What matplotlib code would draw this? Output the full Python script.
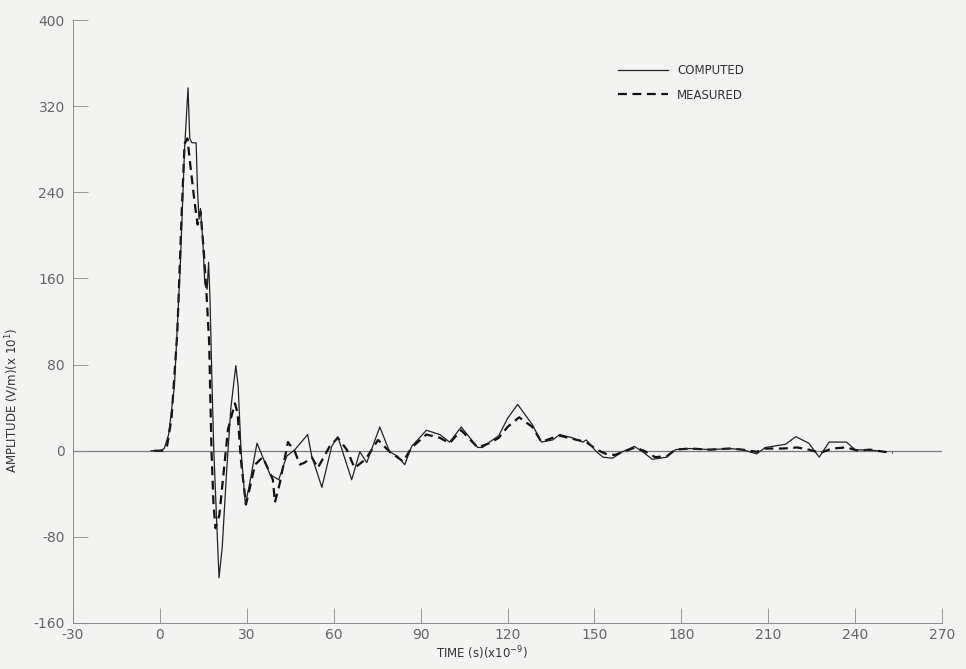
import matplotlib
matplotlib.use("Agg")
import matplotlib.pyplot as plt

# time in ns, amplitude in V/m (x10)
computed_t = [-3, 0, 1.5, 3, 5, 7, 8.5, 9.7, 10.3, 11, 12.5, 13, 13.5, 14, 14.8,
              15.5, 16.3, 16.8, 17.3, 18, 18.6, 19.5, 20.4, 21.5, 23, 24.5, 26.2,
              27, 28, 29.5, 31, 33.5, 35.5, 38, 41, 43.8, 46.6, 51, 52.4, 55.9,
              59.3, 61.4, 66.2, 69, 71.4, 75.9, 79.3, 82, 84.5, 86.9, 92, 96.6,
              100, 104, 109.7, 111.4, 113.8, 117, 120, 123.5, 128.6, 131.7, 135.6,
              138, 142.4, 146, 147.2, 150.7, 153, 156.2, 159.7, 163.8, 166.6, 170,
              175, 178, 182.8, 190, 196.6, 201, 206, 209, 211.4, 216, 219.5, 224,
              227.6, 231, 237, 240, 247.6]
computed_v = [0, 0, 2, 15, 60, 170, 280, 337, 290, 286, 286, 240, 215, 225, 195,
              155, 150, 175, 140, 60, 0, -60, -118, -90, -20, 40, 79,
              60, 0, -50, -30, 7, -6, -22, -27, -5, 1, 15, -5, -34,
              4, 13, -27, -1, -11, 22, -1, -5, -13, 4, 19, 15,
              8, 22, 3, 3, 8, 14, 30, 43, 24, 8, 10,
              15, 12, 8, 10, -1, -6, -7, -1, 4, -1, -8,
              -6, 1, 2, 1, 2, 1, -3, 3, 4, 6, 13, 7,
              -6, 8, 8, 1, 0]

measured_t = [-2, 1, 2.5, 4, 6, 7.5, 8.5, 9.5, 10.5, 12, 13, 14, 15, 16, 17,
              17.8, 18.5, 19.2, 20.5, 22, 23.5, 25.9, 26.8, 28, 29.7, 31, 32.8,
              35.5, 39, 39.7, 41.4, 44.2, 46.6, 48.3, 50, 52.4, 54.5, 58.6, 61.4,
              64.5, 67.2, 71, 75.3, 79.3, 84, 86.9, 92, 96.6, 100, 104, 109.7,
              113.8, 117, 120, 124, 128.6, 131.7, 135.6, 138, 142.4, 147.2, 150.7,
              154, 157, 160, 164, 167, 171, 175, 178, 182.8, 190, 196.6, 201, 206,
              209, 215, 220, 224, 228, 232, 237, 241, 245, 250, 253]
measured_v = [0, 0, 5, 30, 110, 220, 285, 290, 265, 230, 210, 222, 190, 150, 100,
              0, -50, -72, -60, -20, 20, 44, 35, -10, -50, -35, -13,
              -6, -27, -48, -30, 8, -1, -13, -11, -6, -16, 4, 12,
              1, -16, -8, 10, -1, -10, 3, 15, 12, 7, 19, 3,
              7, 12, 22, 31, 22, 8, 12, 14, 11, 8, 1,
              -3, -4, -1, 3, 0, -6, -5, 1, 2, 1, 2, 1, -1,
              2, 2, 3, 1, -2, 2, 3, 0, 1, -1, -2]

x_ticks = list(range(-30, 271, 30))
y_ticks = list(range(-160, 401, 80))

bg = "#f3f3f1"
ink = "#666666"

plt.rcParams["axes.unicode_minus"] = False

fig = plt.figure(figsize=(9.66, 6.69), dpi=100, facecolor=bg)
ax = fig.add_axes([0.0756, 0.0688, 0.8996, 0.9013], facecolor=bg)

ax.axhline(0, color="#7a7a7a", lw=0.9, zorder=1)
ax.plot(computed_t, computed_v, color="#222222", lw=0.9, label="COMPUTED", zorder=3)
ax.plot(measured_t, measured_v, color="#111111", lw=1.6, ls=(0, (4, 2.5)),
        label="MEASURED", zorder=2)

ax.set_xlim(-30, 270)
ax.set_ylim(-160, 400)
ax.set_xticks(x_ticks)
ax.set_yticks(y_ticks)
ax.tick_params(direction="in", length=11, width=0.6, color="#8a8a8a",
               labelcolor=ink, labelsize=10)
ax.tick_params(axis="y", pad=6)

for side in ("top", "right"):
    ax.spines[side].set_visible(False)
for side in ("left", "bottom"):
    ax.spines[side].set_color("#8a8a8a")
    ax.spines[side].set_linewidth(0.7)

ax.set_ylabel("AMPLITUDE (V/m)(x 10$^{1}$)", color="#333333", fontsize=8.5)
ax.yaxis.set_label_coords(-0.06, 0.37)
ax.set_xlabel("TIME (s)(x10$^{-9}$)", color="#333333", fontsize=8.5)
ax.xaxis.set_label_coords(0.47, -0.035)

leg = ax.legend(loc="upper left", bbox_to_anchor=(0.615, 0.945), frameon=False,
                fontsize=8.5, handlelength=4.2, labelspacing=1.0)
for t in leg.get_texts():
    t.set_color("#333333")

fig.savefig("out.png", dpi=100, facecolor=bg)
